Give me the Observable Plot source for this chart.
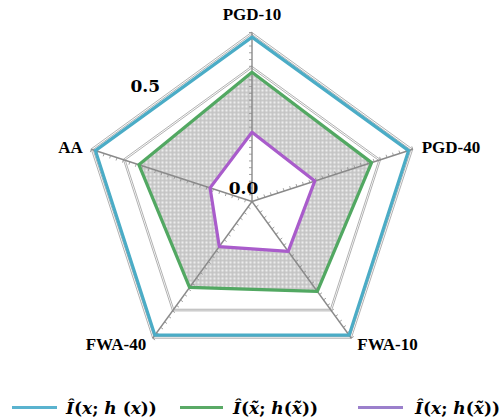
<!DOCTYPE html>
<html><head><meta charset="utf-8">
<script src="https://cdn.jsdelivr.net/npm/d3@7"></script>
<script src="https://cdn.jsdelivr.net/npm/@observablehq/plot@0.6"></script>
<style>
body{margin:0;background:#fff;}
#wrap{width:503px;position:relative;}
#wrap svg{display:block;}
.legend{position:relative;width:503px;height:29px;font-family:"DejaVu Serif";font-weight:bold;font-size:17px;color:#000;}
.sw{position:absolute;height:3px;top:16px;}
.lab{position:absolute;top:8px;line-height:20px;white-space:nowrap;}
.lab i{font-style:italic;}
</style></head><body><div id="wrap"></div>
<script>
// ---- data ----
const axes = ["PGD-10", "PGD-40", "FWA-10", "FWA-40", "AA"];
const cleanMI = [0.608, 0.609, 0.611, 0.611, 0.609];
const advMI   = [0.478, 0.465, 0.411, 0.393, 0.440];
const crossMI = [0.256, 0.244, 0.228, 0.206, 0.163];
const gridValues = [0.5, 0.625];
const tickLabelValues = [0.0, 0.5];
const tickLabels = ["0.0", "0.5"];
const tickStep = 0.025;
const seriesLabels = [
  "<i>Î</i>(<i>x</i>; <i>h</i> (<i>x</i>))",
  "<i>Î</i>(<i>x̃</i>; <i>h</i>(<i>x̃</i>))",
  "<i>Î</i>(<i>x</i>; <i>h</i>(<i>x̃</i>))"
];
const seriesColors = ["#4bacc6", "#52a862", "#a95ccb"];
const legendColors = ["#5ab3cf", "#5aaa66", "#9b80cc"];

// ---- geometry helpers ----
const maxV = 0.625;
const R = 169;               // px radius of outer ring
const k = maxV / R;          // value per px
const W = 503, H = 390, cx = 251.5, cy = 201;
const theta = i => Math.PI / 2 - i * 2 * Math.PI / 5;
const pt = (v, i) => ({x: v * Math.cos(theta(i)), y: v * Math.sin(theta(i))});
const poly = (vals, key) => vals.map((v, i) => ({key, axis: axes[i], ...pt(v, i)}));

const ringOffset = 2 * k;
const rings = [];
gridValues.forEach((g, gi) => {
  [0, ringOffset].forEach((o, oi) => {
    axes.forEach((a, i) => rings.push({ring: gi + "-" + oi, ...pt(g - o, i)}));
  });
});

const axisLines = axes.map((a, i) => ({x1: 0, y1: 0, x2: pt(maxV, i).x, y2: pt(maxV, i).y}));
const ticks = [];
const nT = Math.round(maxV / tickStep);
const tLen = 3 * k;
axes.forEach((a, i) => {
  const t = theta(i);
  for (let j = 1; j <= nT; j++) {
    const p = pt(j * tickStep, i);
    ticks.push({x1: p.x, y1: p.y, x2: p.x - Math.sin(t) * tLen, y2: p.y + Math.cos(t) * tLen});
  }
});

const labelMarks = axes.map((a, i) => {
  const c = Math.cos(theta(i)), s = Math.sin(theta(i));
  const p = pt(maxV, i);
  let anchor = "middle", dx = 0, dy = -13;
  if (s > 0.9) { anchor = "middle"; dx = 0; dy = -13; }
  else if (s > 0) { anchor = c > 0 ? "start" : "end"; dx = c > 0 ? 9 : -8.5; dy = 3.5; }
  else { anchor = c > 0 ? "start" : "end"; dx = c > 0 ? 6 : -6.5; dy = 12; }
  return Plot.text([{...p, label: a}], {x: "x", y: "y", text: "label", textAnchor: anchor, lineAnchor: "bottom",
    dx, dy, fontFamily: "Liberation Serif", fontWeight: "bold", fontSize: 17, fill: "#000"});
});

const labelAngle = 134 * Math.PI / 180;
const tickLabelData = tickLabelValues.map((v, i) => ({
  x: v * 1.046 * Math.cos(labelAngle), y: v * 1.046 * Math.sin(labelAngle), label: tickLabels[i]}));

const svg = Plot.plot({
  width: W, height: H, margin: 0,
  x: {domain: [-cx * k, (W - cx) * k], axis: null},
  y: {domain: [-(H - cy) * k, cy * k], axis: null},
  style: {background: "#fff", overflow: "visible"},
  marks: [
    Plot.line(poly(advMI, "adv"), {x: "x", y: "y", curve: "linear-closed", fill: "url(#dots)", stroke: "none"}),
    Plot.line(poly(crossMI, "cross"), {x: "x", y: "y", curve: "linear-closed", fill: "#fff", stroke: "none"}),
    Plot.line(rings, {x: "x", y: "y", z: "ring", curve: "linear-closed", stroke: "#a8a8a8", strokeWidth: 0.9}),
    Plot.link(axisLines, {x1: "x1", y1: "y1", x2: "x2", y2: "y2", stroke: "#8a8a8a", strokeWidth: 1.4}),
    Plot.link(ticks, {x1: "x1", y1: "y1", x2: "x2", y2: "y2", stroke: "#8a8a8a", strokeWidth: 0.8}),
    Plot.line(poly(cleanMI, "clean"), {x: "x", y: "y", curve: "linear-closed", stroke: seriesColors[0], strokeWidth: 3.2}),
    Plot.line(poly(advMI, "adv"), {x: "x", y: "y", curve: "linear-closed", stroke: seriesColors[1], strokeWidth: 3.2}),
    Plot.line(poly(crossMI, "cross"), {x: "x", y: "y", curve: "linear-closed", stroke: seriesColors[2], strokeWidth: 3.2}),
    ...labelMarks,
    Plot.text(tickLabelData, {x: "x", y: "y", text: "label", textAnchor: "middle", lineAnchor: "bottom",
      dx: -8.5, dy: -8, fontFamily: "DejaVu Serif", fontWeight: "bold", fontSize: 17, fill: "#000"})
  ]
});

const defs = d3.select(svg).insert("defs", ":first-child");
const pat = defs.append("pattern").attr("id", "dots").attr("width", 4).attr("height", 4)
  .attr("patternUnits", "userSpaceOnUse");
pat.append("rect").attr("width", 4).attr("height", 4).attr("fill", "#c4c4c4");
pat.append("circle").attr("cx", 2).attr("cy", 2).attr("r", 1.25).attr("fill", "#ededed");

const wrap = document.getElementById("wrap");
wrap.appendChild(svg);

const legend = document.createElement("div");
legend.className = "legend";
const swX = [12, 180, 358], swW = [45, 43, 45], labX = [66, 233, 415];
seriesLabels.forEach((s, i) => {
  const sw = document.createElement("div");
  sw.className = "sw";
  sw.style.left = swX[i] + "px"; sw.style.width = swW[i] + "px"; sw.style.background = legendColors[i];
  legend.appendChild(sw);
  const lb = document.createElement("div");
  lb.className = "lab";
  lb.style.left = labX[i] + "px";
  lb.innerHTML = s;
  legend.appendChild(lb);
});
wrap.appendChild(legend);
</script></body></html>
